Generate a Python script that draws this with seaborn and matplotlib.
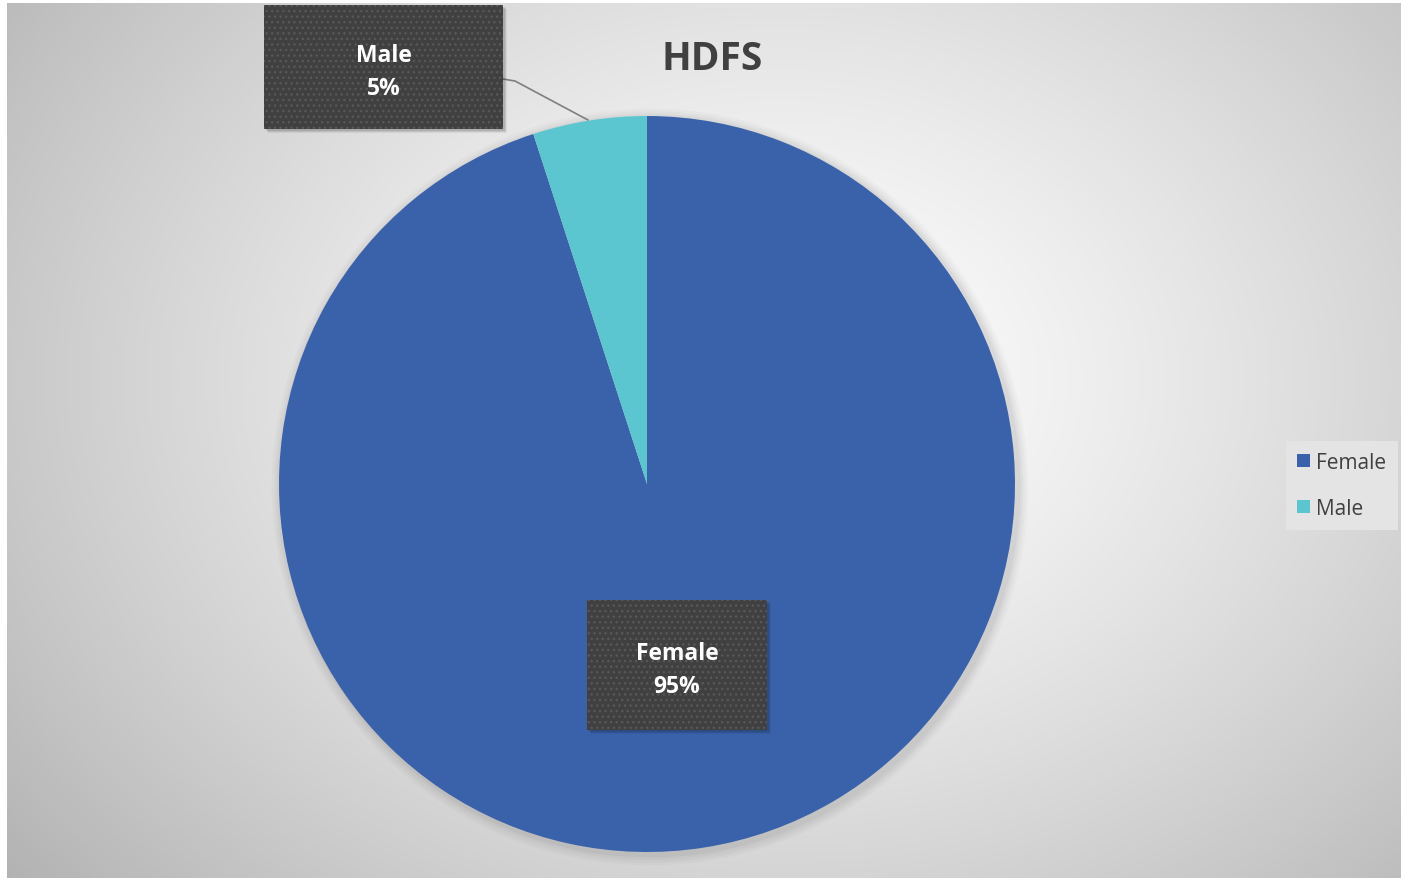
import numpy as np
import matplotlib
matplotlib.use("Agg")
import matplotlib.pyplot as plt
from matplotlib.patches import Rectangle, Patch
import seaborn as sns

categories = ["Female", "Male"]
values = [95, 5]
pct_labels = ["95%", "5%"]
title = "HDFS"

sns.set_theme(style="white")
plt.rcParams['font.family'] = ['Open Sans', 'DejaVu Sans']

colors = ["#3A62AB", "#5BC6CF"]

W, H = 1401, 879
fig = plt.figure(figsize=(W / 100, H / 100), dpi=100)
fig.patch.set_facecolor("white")

def fx(x):
    return x / W

def fy(y):
    return 1 - y / H

# background radial gradient
bg = fig.add_axes([fx(7), fy(879), fx(1401) - fx(7), fy(4) - fy(879)])
bg.set_axis_off()
yy, xx = np.mgrid[4:879, 7:1401]
r = np.sqrt(((xx - 780) / 900.0) ** 2 + ((yy - 380) / 700.0) ** 2)
g = 1.0 - 0.26 * np.clip(r, 0, 1.2) ** 1.3
img = np.dstack([g, g, g])
bg.imshow(img, aspect="auto", extent=[0, 1, 0, 1], origin="upper")
bg.set_xlim(0, 1)
bg.set_ylim(0, 1)

# pie
cx, cy, R = 647, 485, 368
ax = fig.add_axes([fx(cx - R), fy(cy + R), 2 * R / W, 2 * R / H])
ax.set_axis_off()
# soft shadow
for i, a in enumerate([0.035, 0.03, 0.025, 0.02]):
    sh = plt.Circle((0.008, -0.008), 1.0 + 0.007 * (i + 1), color="black", alpha=a, lw=0, clip_on=False)
    ax.add_patch(sh)
ax.pie(values, colors=colors, startangle=90, counterclock=False, radius=1.0,
       wedgeprops=dict(linewidth=0, clip_on=False))
ax.set_xlim(-1, 1)
ax.set_ylim(-1, 1)
ax.set_aspect("auto")

plt.rcParams['hatch.color'] = '#585858'
plt.rcParams['hatch.linewidth'] = 1.0

def label_box(x0, y0, x1, y1, name, pct):
    # shadow
    for k, a in enumerate([0.10, 0.08, 0.06]):
        fig.patches.append(Rectangle((fx(x0 + 2 + k), fy(y1 + 2 + k)), fx(x1 - x0), fy(y0) - fy(y1),
                                     transform=fig.transFigure, facecolor="black", alpha=a, lw=0, zorder=3))
    fig.patches.append(Rectangle((fx(x0), fy(y1)), fx(x1 - x0), fy(y0) - fy(y1),
                                 transform=fig.transFigure, facecolor="#404040", edgecolor="#585858",
                                 hatch="...", lw=0, zorder=4))
    mid = (y0 + y1) / 2 + 1.5
    for txt, yy_ in [(name, mid - 16.5), (pct, mid + 16.5)]:
        fig.text(fx((x0 + x1) / 2), fy(yy_), txt, ha="center", va="center_baseline",
                 color="white", fontsize=16.5, fontweight="bold", zorder=5)

# leader line for Male
fig.lines.append(plt.Line2D([fx(503), fx(515), fx(588)], [fy(80), fy(82), fy(121)],
                            transform=fig.transFigure, color="#7f7f7f", lw=1.2, zorder=2))

label_box(264, 6, 503, 130, categories[1], pct_labels[1])
label_box(587, 601, 767, 731, categories[0], pct_labels[0])

fig.text(fx(712), fy(59), title, ha="center", va="center", fontsize=28,
         fontweight="bold", color="#404040")

handles = [Patch(facecolor=c, edgecolor="none", label=l) for c, l in zip(colors, categories)]
leg = fig.legend(handles=handles, loc="center left", bbox_to_anchor=(fx(1286), fy(486.5)),
                 frameon=True, fontsize=15, handlelength=0.6, handleheight=0.6,
                 handletextpad=0.3, labelspacing=1.2, borderpad=0.55, borderaxespad=0,
                 labelcolor="#404040")
leg.get_frame().set_facecolor("#e4e4e4")
leg.get_frame().set_edgecolor("none")
leg.get_frame().set_alpha(1)
leg.get_frame().set_boxstyle("square", pad=0)

fig.savefig("out.png", dpi=100)
